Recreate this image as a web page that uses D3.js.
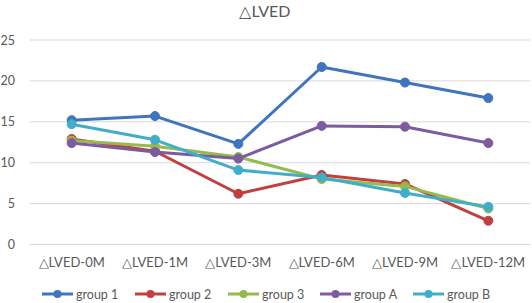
<!DOCTYPE html>
<html>
<head>
<meta charset="utf-8">
<script src="https://cdn.jsdelivr.net/npm/d3@7"></script>
<style>
  body { margin: 0; background: #fff; }
  text { font-family: Lato, "Open Sans", sans-serif; fill: #595959; }
</style>
</head>
<body>
<script>
// Chart size
var w = 532;
var h = 303;

var categories = ["△LVED-0M", "△LVED-1M", "△LVED-3M", "△LVED-6M", "△LVED-9M", "△LVED-12M"];
var seriesNames = ["group 1", "group 2", "group 3", "group A", "group B"];
var group1 = [15.2, 15.7, 12.3, 21.7, 19.8, 17.9];
var group2 = [12.9, 11.4, 6.2, 8.5, 7.4, 2.9];
var group3 = [12.7, 12.0, 10.7, 8.0, 7.1, 4.4];
var groupA = [12.4, 11.3, 10.5, 14.5, 14.4, 12.4];
var groupB = [14.7, 12.8, 9.1, 8.2, 6.3, 4.6];
var yTicks = [0, 5, 10, 15, 20, 25];

var colors = ["#3F74BE", "#C0403D", "#97BA4E", "#7C5BA1", "#40AEC9"];
var seriesValues = [group1, group2, group3, groupA, groupB];

var svg = d3.select("body").append("svg")
    .attr("width", w)
    .attr("height", h);

var xScale = d3.scaleBand()
    .domain(categories)
    .range([30, 530]);

var yScale = d3.scaleLinear()
    .domain([0, 25])
    .range([244.5, 40]);

// Title
svg.append("text")
    .attr("x", 265)
    .attr("y", 17)
    .attr("text-anchor", "middle")
    .style("font-size", "16px")
    .text("△LVED");

// Gridlines
svg.append("g")
    .selectAll("line")
    .data(yTicks)
    .enter()
    .append("line")
    .attr("x1", 30)
    .attr("x2", 530)
    .attr("y1", function(d) { return yScale(d); })
    .attr("y2", function(d) { return yScale(d); })
    .attr("stroke", "#d9d9d9")
    .attr("stroke-width", 1);

// Y axis labels
var yAxis = d3.axisLeft(yScale)
    .tickValues(yTicks)
    .tickSize(0)
    .tickPadding(0);

var yg = svg.append("g")
    .attr("transform", "translate(15,0)")
    .call(yAxis);
yg.select(".domain").remove();
yg.selectAll("text")
    .style("font-size", "12.5px")
    .style("fill", "#595959");

// X axis labels
var xAxis = d3.axisBottom(xScale)
    .tickSize(0)
    .tickPadding(0);

var xg = svg.append("g")
    .attr("transform", "translate(0,258)")
    .call(xAxis);
xg.select(".domain").remove();
xg.selectAll("text")
    .style("font-size", "13px")
    .style("fill", "#595959");

var line = d3.line()
    .x(function(d, i) { return xScale(categories[i]) + xScale.bandwidth() / 2; })
    .y(function(d) { return yScale(d); });

// Lines and markers
seriesValues.forEach(function(vals, k) {
    svg.append("path")
        .datum(vals)
        .attr("d", line)
        .attr("fill", "none")
        .attr("stroke", colors[k])
        .attr("stroke-width", 3)
        .attr("stroke-linejoin", "round");

    svg.selectAll(".m" + k)
        .data(vals)
        .enter()
        .append("circle")
        .attr("cx", function(d, i) { return xScale(categories[i]) + xScale.bandwidth() / 2; })
        .attr("cy", function(d) { return yScale(d); })
        .attr("r", 4.5)
        .attr("fill", colors[k])
        .attr("stroke", colors[k])
        .attr("stroke-width", 1);
});

// Legend
var legendX = [42, 135, 228, 320, 413];
var lg = svg.selectAll(".legend")
    .data(seriesNames)
    .enter()
    .append("g")
    .attr("transform", function(d, i) { return "translate(" + legendX[i] + ",294)"; });

lg.append("line")
    .attr("x1", 0)
    .attr("x2", 31)
    .attr("stroke", function(d, i) { return colors[i]; })
    .attr("stroke-width", 3);

lg.append("circle")
    .attr("cx", 15.5)
    .attr("r", 4)
    .attr("fill", function(d, i) { return colors[i]; });

lg.append("text")
    .attr("x", 34)
    .attr("y", 4.5)
    .style("font-size", "12.5px")
    .text(function(d) { return d; });
</script>
</body>
</html>
